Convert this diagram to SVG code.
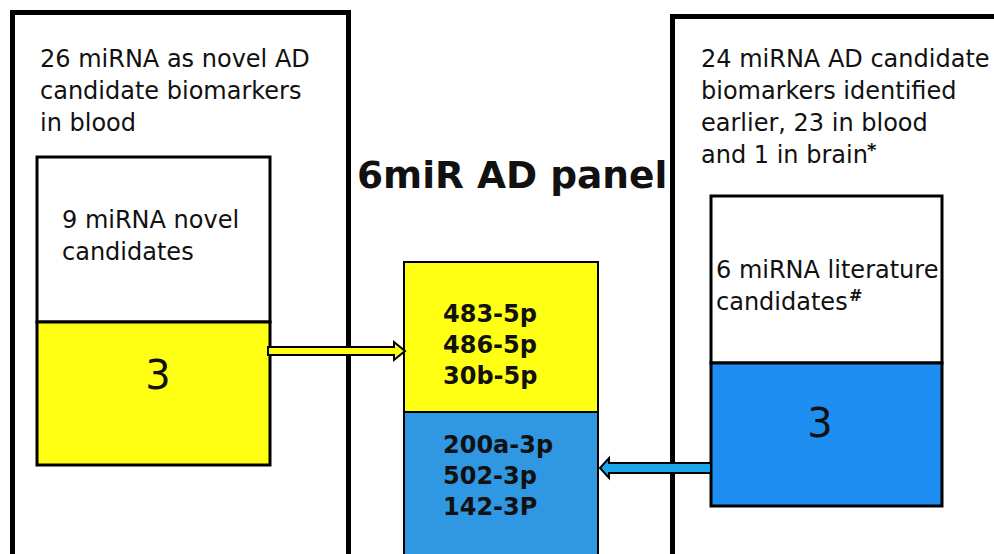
<svg xmlns="http://www.w3.org/2000/svg" width="994" height="554" viewBox="0 0 994 554">
<style>
.t{font-family:"DejaVu Sans","Liberation Sans",sans-serif;font-size:24px;fill:#111}
.big{font-family:"DejaVu Sans","Liberation Sans",sans-serif;font-size:40px;fill:#111}
.b{font-family:"DejaVu Sans","Liberation Sans",sans-serif;font-weight:bold;fill:#111}
.lab{font-size:24px}
.sup{font-family:"DejaVu Sans","Liberation Sans",sans-serif;font-weight:bold;font-size:16px;fill:#111}
.outer{fill:#fff;stroke:#000;stroke-width:5}
.inner{stroke:#000;stroke-width:3}
</style>
<rect width="994" height="554" fill="#fff"/>
<g id="left-group">
<rect class="outer" x="12.5" y="12.5" width="336" height="560"/>
<text class="t" x="40" y="67">26 miRNA as novel AD</text>
<text class="t" x="40" y="99">candidate biomarkers</text>
<text class="t" x="40" y="131">in blood</text>
</g>
<g id="left-novel">
<rect class="inner" x="37" y="157" width="233" height="165" fill="#fff"/>
<rect class="inner" x="37" y="322" width="233" height="143" fill="#ffff14"/>
<text class="t" x="62" y="228">9 miRNA novel</text>
<text class="t" x="62" y="260">candidates</text>
<text class="big" x="158" y="389" text-anchor="middle">3</text>
</g>
<g id="right-group">
<rect class="outer" x="672.5" y="16.5" width="360" height="560"/>
<text class="t" x="701" y="67">24 miRNA AD candidate</text>
<text class="t" x="701" y="99">biomarkers identified</text>
<text class="t" x="701" y="131">earlier, 23 in blood</text>
<text class="t" x="701" y="163">and 1 in brain</text>
<text class="sup" style="font-size:18px" x="867" y="156">*</text>
</g>
<g id="right-literature">
<rect class="inner" x="711" y="196" width="231" height="167" fill="#fff"/>
<rect class="inner" x="711" y="363" width="231" height="143" fill="#1e8ef2"/>
<text class="t" x="716" y="278">6 miRNA literature</text>
<text class="t" x="716" y="310">candidates</text>
<text class="sup" x="849" y="301">#</text>
<text class="big" x="820" y="437" text-anchor="middle">3</text>
</g>
<g id="panel">
<text class="b" x="357" y="188" style="font-size:37.5px">6miR AD panel</text>
<rect x="404" y="262" width="194" height="150" fill="#ffff14" stroke="#000" stroke-width="2"/>
<rect x="404" y="412" width="194" height="160" fill="#3097e2" stroke="#000" stroke-width="2"/>
<text class="b lab" x="443" y="322">483-5p</text>
<text class="b lab" x="443" y="353">486-5p</text>
<text class="b lab" x="443" y="384">30b-5p</text>
<text class="b lab" x="443" y="453">200a-3p</text>
<text class="b lab" x="443" y="484">502-3p</text>
<text class="b lab" x="443" y="515">142-3P</text>
</g>
<g id="connectors">
<path d="M268,347 L394,347 L394,342 L405,351 L394,360 L394,355 L268,355 Z" fill="#ffff14" stroke="#000" stroke-width="2"/>
<path d="M711,463 L609,463 L609,458 L600,468 L609,478 L609,473 L711,473 Z" fill="#1aa6e8" stroke="#000" stroke-width="2"/>
</g>
</svg>
